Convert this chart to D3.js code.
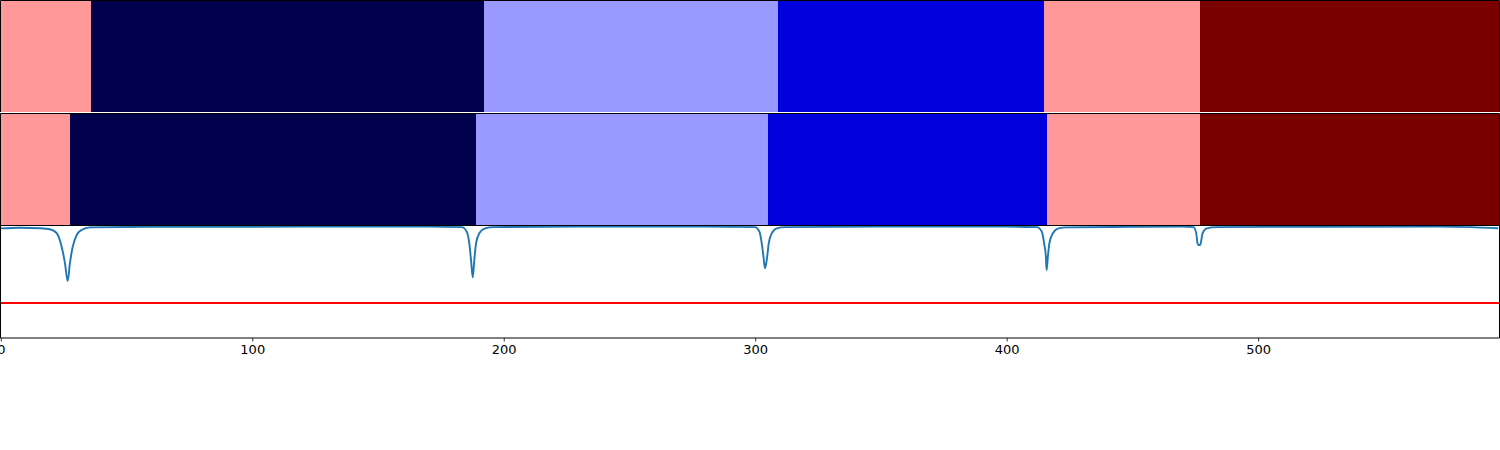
<!DOCTYPE html>
<html>
<head>
<meta charset="utf-8">
<script src="https://cdn.jsdelivr.net/npm/d3@7"></script>
<style>
  html, body { margin: 0; padding: 0; background: #fff; }
  svg { display: block; }
  text { font-family: "DejaVu Sans", sans-serif; }
</style>
</head>
<body>
<svg id="chart" width="1500" height="450"></svg>
<script>
// ---- data ----
const segmentColors = ["#ff9999", "#00004c", "#9999ff", "#0000dd", "#ff9999", "#7a0000"];
const row1Bounds = [0, 36, 192, 309, 415, 477, 596];
const row2Bounds = [0, 27.5, 189, 305, 416, 477, 596];

const lineX = [0, 7.6, 15.6, 19.5, 22.2, 24.2, 25.5, 26.6, 27.5, 28.6, 30.2, 32.1, 35.4, 59.3, 120, 170,
  183.3, 185.3, 186.3, 187.0, 187.7, 188.3, 189.0, 190.3, 192.6, 195.9, 230, 280,
  299.9, 301.7, 302.6, 303.3, 303.9, 304.6, 305.4, 306.6, 308.6, 311.9, 350, 400,
  412.0, 414.0, 414.9, 415.6, 415.9, 416.4, 417.0, 418.4, 420.6, 423.9, 450, 470,
  474.3, 475.4, 475.9, 476.3, 476.9, 477.2, 477.9, 479.6, 483.6, 520, 572.4, 584.4, 595.5];
const lineY = [0.979, 0.985, 0.98, 0.971, 0.9375, 0.815, 0.67, 0.509, 0.67, 0.815, 0.92, 0.964, 0.988, 0.993, 0.994, 0.994,
  0.99, 0.949, 0.846, 0.696, 0.542, 0.696, 0.846, 0.935, 0.979, 0.99, 0.994, 0.994,
  0.99, 0.949, 0.846, 0.727, 0.622, 0.696, 0.846, 0.935, 0.979, 0.99, 0.994, 0.994,
  0.99, 0.949, 0.846, 0.727, 0.607, 0.727, 0.846, 0.935, 0.979, 0.988, 0.992, 0.994,
  0.99, 0.935, 0.846, 0.83, 0.83, 0.846, 0.935, 0.979, 0.99, 0.993, 0.994, 0.99, 0.98];
const threshold = 0.3125;
const xTicks = [0, 100, 200, 300, 400, 500];

// ---- layout ----
const svg = d3.select("#chart");
const left = 0.8, right = 1499.5;
const rows = [{ top: 0.5, h: 111.5 }, { top: 113.5, h: 112 }, { top: 225.5, h: 112.5 }];
const x = d3.scaleLinear().domain([0, 596]).range([left, right]);

function drawSegments(bounds, row) {
  const segs = d3.range(bounds.length - 1).map(i => ({ a: bounds[i], b: bounds[i + 1], c: segmentColors[i] }));
  svg.append("g").selectAll("rect").data(segs).join("rect")
    .attr("x", d => x(d.a)).attr("width", d => x(d.b) - x(d.a))
    .attr("y", row.top).attr("height", row.h)
    .attr("fill", d => d.c).attr("shape-rendering", "crispEdges");
}
drawSegments(row1Bounds, rows[0]);
drawSegments(row2Bounds, rows[1]);

// panel 3 line
const r3 = rows[2];
const y = d3.scaleLinear().domain([0, 1]).range([r3.top + r3.h, r3.top + 0.5]);
const pts = lineX.map((v, i) => [v, lineY[i]]);
const g3 = svg.append("g");
svg.append("clipPath").attr("id", "c3").append("rect")
  .attr("x", left).attr("y", r3.top).attr("width", right - left).attr("height", r3.h);
g3.append("line").attr("x1", x(0)).attr("x2", x(596))
  .attr("y1", y(threshold)).attr("y2", y(threshold))
  .attr("stroke", "#ff0000").attr("stroke-width", 1.8);
g3.append("path").datum(pts)
  .attr("d", d3.line().x(d => x(d[0])).y(d => y(d[1])).curve(d3.curveMonotoneX))
  .attr("fill", "none").attr("stroke", "#1f77b4").attr("stroke-width", 1.9)
  .attr("clip-path", "url(#c3)");

// panel borders
rows.forEach((r, i) => {
  const x0 = left - 0.3, x1 = right, y0 = r.top, y1 = r.top + r.h;
  const p = i === 0
    ? `M${x0},${y1}V${y0}H${x1}V${y1}`
    : `M${x0},${y0}H${x1}V${y1}H${x0}Z`;
  svg.append("path").attr("d", p).attr("fill", "none").attr("stroke", "#000").attr("stroke-width", 1);
});

// x axis
const axis = svg.append("g").attr("transform", `translate(0,${r3.top + r3.h})`)
  .call(d3.axisBottom(x).tickValues(xTicks).tickFormat(d3.format("d")).tickSize(3.5).tickPadding(3.5));
axis.select(".domain").remove();
axis.selectAll("line").attr("stroke", "#000").attr("stroke-width", 0.8);
axis.selectAll("text").attr("font-size", "13px").attr("fill", "#000")
  .attr("font-family", "DejaVu Sans, sans-serif");
</script>
</body>
</html>
